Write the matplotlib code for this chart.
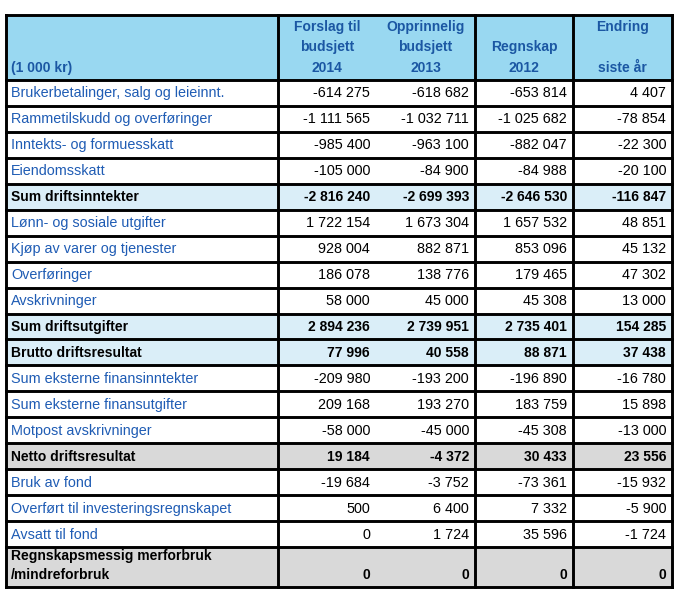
import matplotlib.pyplot as plt
from matplotlib.patches import Rectangle

plt.rcParams['font.family'] = ['Liberation Sans', 'DejaVu Sans']

# table content
labels = [
    "Brukerbetalinger, salg og leieinnt.",
    "Rammetilskudd og overføringer",
    "Inntekts- og formuesskatt",
    "Eiendomsskatt",
    "Sum driftsinntekter",
    "Lønn- og sosiale utgifter",
    "Kjøp av varer og tjenester",
    "Overføringer",
    "Avskrivninger",
    "Sum driftsutgifter",
    "Brutto driftsresultat",
    "Sum eksterne finansinntekter",
    "Sum eksterne finansutgifter",
    "Motpost avskrivninger",
    "Netto driftsresultat",
    "Bruk av fond",
    "Overført til investeringsregnskapet",
    "Avsatt til fond",
    "Regnskapsmessig merforbruk\n/mindreforbruk",
]
row_kind = ["n", "n", "n", "n", "sum", "n", "n", "n", "n", "sum", "sum",
            "n", "n", "n", "grey", "n", "n", "n", "grey"]

forslag_2014 = [-614275, -1111565, -985400, -105000, -2816240, 1722154, 928004,
                186078, 58000, 2894236, 77996, -209980, 209168, -58000, 19184,
                -19684, 500, 0, 0]
opprinnelig_2013 = [-618682, -1032711, -963100, -84900, -2699393, 1673304, 882871,
                    138776, 45000, 2739951, 40558, -193200, 193270, -45000, -4372,
                    -3752, 6400, 1724, 0]
regnskap_2012 = [-653814, -1025682, -882047, -84988, -2646530, 1657532, 853096,
                 179465, 45308, 2735401, 88871, -196890, 183759, -45308, 30433,
                 -73361, 7332, 35596, 0]
endring = [4407, -78854, -22300, -20100, -116847, 48851, 45132, 47302, 13000,
           154285, 37438, -16780, 15898, -13000, 23556, -15932, -5900, -1724, 0]

columns = [forslag_2014, opprinnelig_2013, regnskap_2012, endring]
headers = ["Forslag til\nbudsjett\n2014", "Opprinnelig\nbudsjett\n2013",
           "Regnskap\n2012", "Endring\n\nsiste år"]
header_label = "(1 000 kr)"


def fmt(v):
    s = f"{abs(v):,}".replace(",", " ")
    return ("-" if v < 0 else "") + s


# layout in pixels
W, H = 680, 606
col_edges = [6, 278, 376, 475, 573, 672]
top, header_bottom = 15, 80
row_h = 25.95
last_row_h = 40

fill = {"n": "white", "sum": "#daeef8", "grey": "#d9d9d9"}
header_fill = "#99d8f1"
header_blue = "#1b57a3"
label_blue = "#1f5cb4"

fig = plt.figure(figsize=(W / 100, H / 100), dpi=100)
ax = fig.add_axes([0, 0, 1, 1])
ax.set_xlim(0, W)
ax.set_ylim(H, 0)
ax.axis("off")

# row positions
row_tops = []
y = header_bottom
for i in range(len(labels)):
    row_tops.append(y)
    y += last_row_h if i == len(labels) - 1 else row_h
bottom = y

# header
ax.add_patch(Rectangle((col_edges[0], top), col_edges[-1] - col_edges[0],
                       header_bottom - top, facecolor=header_fill, edgecolor="none"))
ax.text(col_edges[0] + 5, 68, header_label, ha="left", va="center",
        fontsize=10, fontweight="bold", color=header_blue)
for j, h in enumerate(headers):
    cx = (col_edges[j + 1] + col_edges[j + 2]) / 2
    n = h.count("\n") + 1
    y_first = 67.5 - (n - 1) * 20
    for k, line in enumerate(h.split("\n")):
        ax.text(cx, y_first + k * 20, line, ha="center", va="center",
                fontsize=10, fontweight="bold", color=header_blue)

# body
for i, lab in enumerate(labels):
    kind = row_kind[i]
    rt = row_tops[i]
    rh = last_row_h if i == len(labels) - 1 else row_h
    ax.add_patch(Rectangle((col_edges[0], rt), col_edges[-1] - col_edges[0], rh,
                           facecolor=fill[kind], edgecolor="none"))
    bold = kind != "n"
    weight = "bold" if bold else "normal"
    size = 10 if bold else 10.4
    lab_color = "black" if bold else label_blue
    if "\n" in lab:
        for k, line in enumerate(lab.split("\n")):
            ax.text(col_edges[0] + 5, rt + 9 + k * 19, line, ha="left", va="center",
                    fontsize=size, fontweight=weight, color=lab_color)
        ty = rt + 28
    else:
        ax.text(col_edges[0] + 5, rt + rh / 2 + 0.5, lab, ha="left", va="center",
                fontsize=size, fontweight=weight, color=lab_color)
        ty = rt + rh / 2 + 0.5
    for j, col in enumerate(columns):
        ax.text(col_edges[j + 2] - 6, ty, fmt(col[i]), ha="right", va="center",
                fontsize=size, fontweight=weight, color="black")

# grid lines
lw = 2.1
for yy in [top, header_bottom] + row_tops[1:] + [bottom]:
    ax.plot([col_edges[0], col_edges[-1]], [yy, yy], color="black", lw=lw,
            solid_capstyle="projecting")
for j, xx in enumerate(col_edges):
    if j == 2:
        continue
    ax.plot([xx, xx], [top, bottom], color="black", lw=lw, solid_capstyle="projecting")

fig.savefig("out.png", dpi=100)
